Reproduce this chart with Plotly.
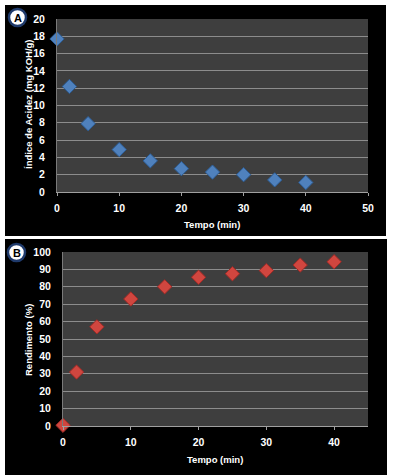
import plotly.graph_objects as go

tempo = [0, 2, 5, 10, 15, 20, 25, 30, 35, 40]
acidez = [17.7, 12.2, 7.9, 4.9, 3.6, 2.7, 2.3, 2.0, 1.4, 1.1]
rendimento = [0.4, 31, 57, 73, 80, 85.5, 87.5, 89.3, 92.5, 94.4]

W, H = 393, 475
def px(x): return x / W
def py(y): return 1 - y / H

fig = go.Figure()
fig.add_trace(go.Scatter(x=tempo, y=acidez, mode="markers", xaxis="x", yaxis="y",
                         marker=dict(symbol="diamond", size=11, color="#4f81bd",
                                     line=dict(color="#2c5d96", width=1)), showlegend=False,
                         cliponaxis=False))
fig.add_trace(go.Scatter(x=tempo, y=rendimento, mode="markers", xaxis="x2", yaxis="y2",
                         marker=dict(symbol="diamond", size=11, color="#d0463f",
                                     line=dict(color="#9e2a26", width=1)), showlegend=False,
                         cliponaxis=False))

FONT = "Liberation Sans"
tickfont = dict(family=FONT, size=10.5, color="white", weight="bold")
grid = "#8c8c8c"
common_x = dict(showgrid=False, zeroline=False, showline=True, linecolor="#a0a0a0",
                ticks="outside", ticklen=3, tickcolor="#a0a0a0", tickfont=tickfont,
                ticklabelstandoff=3, fixedrange=True, automargin=False)
common_y = dict(showgrid=True, gridcolor=grid, gridwidth=1, zeroline=False, showline=True,
                linecolor="#7a7a7a", ticks="", tickfont=tickfont, ticklabelstandoff=9,
                fixedrange=True, automargin=False)

fig.update_layout(
    width=W, height=H, autosize=False,
    margin=dict(l=0, r=0, t=0, b=0, pad=0, autoexpand=False),
    paper_bgcolor="white",
    plot_bgcolor="#3e3e3e",
    xaxis=dict(domain=[px(57), px(368)], anchor="y", range=[0, 50], dtick=10, **common_x),
    yaxis=dict(domain=[py(192), py(19)], anchor="x", range=[0, 20], dtick=2, **common_y),
    xaxis2=dict(domain=[px(63), px(368)], anchor="y2", range=[0, 45], tickvals=[0, 10, 20, 30, 40], **common_x),
    yaxis2=dict(domain=[py(426), py(252)], anchor="x2", range=[0, 100], dtick=10, **common_y),
)

shapes = [
    dict(type="rect", xref="paper", yref="paper", x0=px(5), x1=px(386), y0=py(236), y1=py(5),
         fillcolor="black", line=dict(width=0), layer="below"),
    dict(type="rect", xref="paper", yref="paper", x0=px(5), x1=px(387), y0=py(476), y1=py(239),
         fillcolor="black", line=dict(width=0), layer="below"),
    dict(type="rect", xref="x domain", yref="y domain", x0=0, x1=1, y0=0, y1=1,
         fillcolor="#3e3e3e", line=dict(width=0), layer="below"),
    dict(type="rect", xref="x2 domain", yref="y2 domain", x0=0, x1=1, y0=0, y1=1,
         fillcolor="#3e3e3e", line=dict(width=0), layer="below"),
    dict(type="circle", xref="paper", yref="paper", x0=px(9), x1=px(26), y0=py(26), y1=py(9),
         fillcolor="white", line=dict(color="#1f3a6b", width=2.5), layer="below"),
    dict(type="circle", xref="paper", yref="paper", x0=px(8), x1=px(25), y0=py(261), y1=py(244),
         fillcolor="white", line=dict(color="#1f3a6b", width=2.5), layer="below"),
]
fig.update_layout(shapes=shapes)

title_font = dict(family=FONT, size=9.5, color="white", weight="bold")
def label(text, x, y, font, angle=0):
    return dict(text=text, x=px(x), y=py(y), xref="paper", yref="paper", showarrow=False,
                xanchor="center", yanchor="middle", textangle=angle, font=font)

letter_font = dict(family=FONT, size=11, color="black", weight="bold")
ann = [
    label("A", 17.5, 17.5, letter_font),
    label("B", 16.5, 252.5, letter_font),
    label("Índice de Acidez (mg KOH/g)", 28, 104, title_font, -90),
    label("Rendimento (%)", 28, 340, title_font, -90),
    label("Tempo (min)", 212, 224, title_font),
    label("Tempo (min)", 215, 459, title_font),
]
fig.update_layout(annotations=ann)

fig.write_html("out.html", config={"displayModeBar": False},
               post_script="document.body.style.margin='0px';")
